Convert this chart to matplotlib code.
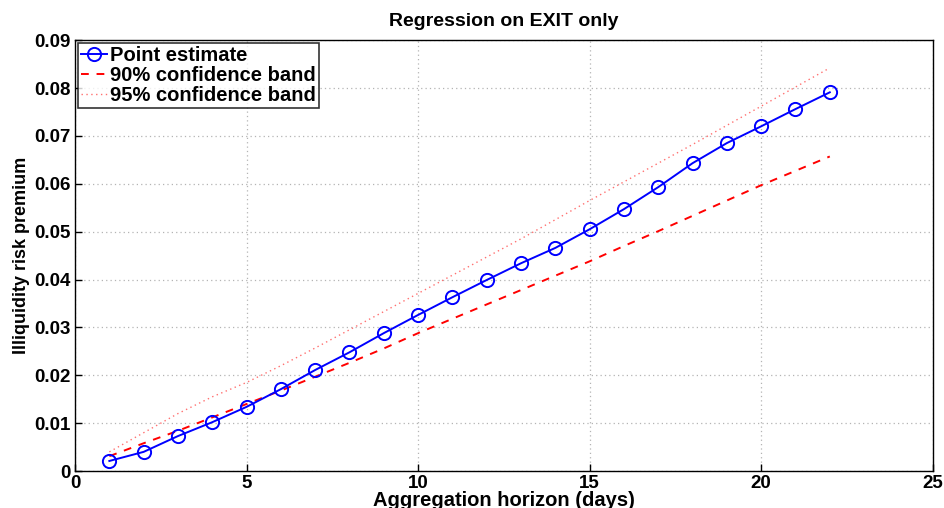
import numpy as np
import matplotlib
matplotlib.use("Agg")
import matplotlib.pyplot as plt

plt.rcParams['font.family'] = ['Liberation Sans', 'DejaVu Sans']
plt.rcParams['font.weight'] = 'bold'

# aggregation horizon in days
horizon = list(range(1, 23))
point_est = [0.0021, 0.0040, 0.0073, 0.0102, 0.0134, 0.0171, 0.0211, 0.0248,
             0.0288, 0.0326, 0.0363, 0.0399, 0.0434, 0.0466, 0.0505, 0.0547,
             0.0593, 0.0643, 0.0685, 0.0720, 0.0756, 0.0791]
band90 = [0.0031, 0.0058, 0.0084, 0.0112, 0.0140, 0.0168, 0.0197, 0.0226,
          0.0256, 0.0288, 0.0318, 0.0348, 0.0378, 0.0408, 0.0438, 0.0470,
          0.0501, 0.0533, 0.0565, 0.0597, 0.0627, 0.0657]
band95 = [0.0040, 0.0080, 0.0120, 0.0155, 0.0185, 0.0220, 0.0257, 0.0295,
          0.0333, 0.0371, 0.0409, 0.0447, 0.0485, 0.0525, 0.0565, 0.0604,
          0.0643, 0.0682, 0.0722, 0.0762, 0.0802, 0.0842]
xticks = [0, 5, 10, 15, 20, 25]
yticks = [0, 0.01, 0.02, 0.03, 0.04, 0.05, 0.06, 0.07, 0.08, 0.09]
ytick_labels = ['0', '0.01', '0.02', '0.03', '0.04', '0.05', '0.06', '0.07', '0.08', '0.09']

fig = plt.figure(figsize=(9.45, 5.08), dpi=100)
ax = fig.add_axes([0.0794, 0.0728, 0.9076, 0.8482])

ax.plot(horizon, point_est, color='#0000ff', lw=1.4, marker='o', ms=9.5,
        mfc='none', mec='#0000ff', mew=1.4, label='Point estimate', zorder=3)
ax.plot(horizon, band90, color='#ff0000', lw=1.4, ls=(0, (4, 4)),
        label='90% confidence band', zorder=2)
ax.plot(horizon, band95, color='#ff7070', lw=1.0, ls=(0, (1, 2.5)),
        label='95% confidence band', zorder=2)

ax.set_xlim(0, 25)
ax.set_ylim(0, 0.09)
ax.set_xticks(xticks)
ax.set_yticks(yticks)
ax.set_yticklabels(ytick_labels)
ax.tick_params(direction='in', labelsize=13.5, length=5, width=1, pad=3)
for lab in ax.get_xticklabels() + ax.get_yticklabels():
    lab.set_fontweight('bold')
ax.grid(True, color='#b4b4b4', ls=(0, (1, 2.5)), lw=0.9)
for s in ax.spines.values():
    s.set_linewidth(1.0)

ax.set_title('Regression on EXIT only', fontsize=14, fontweight='bold', pad=10)
ax.set_xlabel('Aggregation horizon (days)', fontsize=14.5, fontweight='bold', labelpad=-1)
ax.set_ylabel('Illiquidity risk premium', fontsize=13, fontweight='bold', labelpad=3)

leg = ax.legend(loc='upper left', fontsize=14.5, frameon=True, fancybox=False,
                edgecolor='black', borderaxespad=0.15, handlelength=1.3,
                handletextpad=0.15, borderpad=0.15, labelspacing=0.05)
leg.get_frame().set_linewidth(1.2)
for t in leg.get_texts():
    t.set_fontweight('bold')

fig.savefig('out.png', dpi=100)
